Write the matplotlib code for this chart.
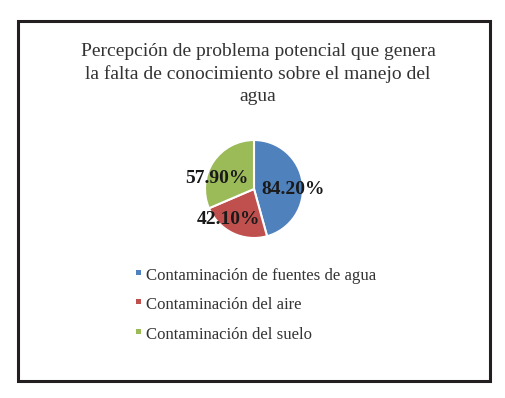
import matplotlib
matplotlib.use("Agg")
import matplotlib.pyplot as plt
from matplotlib.patches import Rectangle

title = "Percepción de problema potencial que genera\nla falta de conocimiento sobre el manejo del\nagua"
categories = ["Contaminación de fuentes de agua", "Contaminación del aire", "Contaminación del suelo"]
values = [84.2, 42.1, 57.9]
labels = ["84.20%", "42.10%", "57.90%"]
colors = ["#4F81BD", "#C0504D", "#9BBB59"]

W, H = 506, 398
fig = plt.figure(figsize=(W / 100, H / 100), dpi=100)
fig.patch.set_facecolor("white")

# border
fig.add_artist(Rectangle((18 / W, 1 - 381 / H), (490 - 18) / W, (381 - 21) / H,
                         transform=fig.transFigure, fill=False, edgecolor="#231f20", linewidth=2.2))

fig.text(258 / W, 1 - 74 / H, title, ha="center", va="center", fontsize=14.0,
         family="Liberation Serif", color="#333333", linespacing=1.4)

cx, cy, r = 254, 189, 49
ax = fig.add_axes([(cx - r) / W, 1 - (cy + r) / H, 2 * r / W, 2 * r / H])
wedges, _ = ax.pie(values, colors=colors, startangle=90, counterclock=False,
                   wedgeprops=dict(edgecolor="white", linewidth=1.5))
ax.set_aspect("equal")
ax.set_xlim(-1, 1)
ax.set_ylim(-1, 1)

label_pos = [(293, 189), (229, 219), (217, 178)]
for (lx, ly), txt in zip(label_pos, labels):
    fig.text(lx / W, 1 - ly / H, txt, ha="center", va="center", fontsize=14,
             fontweight="bold", family="Liberation Serif", color="#1a1a1a")

rows = [276, 305, 335]
for y, cat, col in zip(rows, categories, colors):
    fig.add_artist(Rectangle((136 / W, 1 - (y - 1) / H), 5 / W, 5 / H,
                             transform=fig.transFigure, facecolor=col, edgecolor="none"))
    fig.text(146 / W, 1 - y / H, cat, ha="left", va="center", fontsize=12.1,
             family="Liberation Serif", color="#333333")

fig.savefig("out.png", dpi=100, facecolor="white")
